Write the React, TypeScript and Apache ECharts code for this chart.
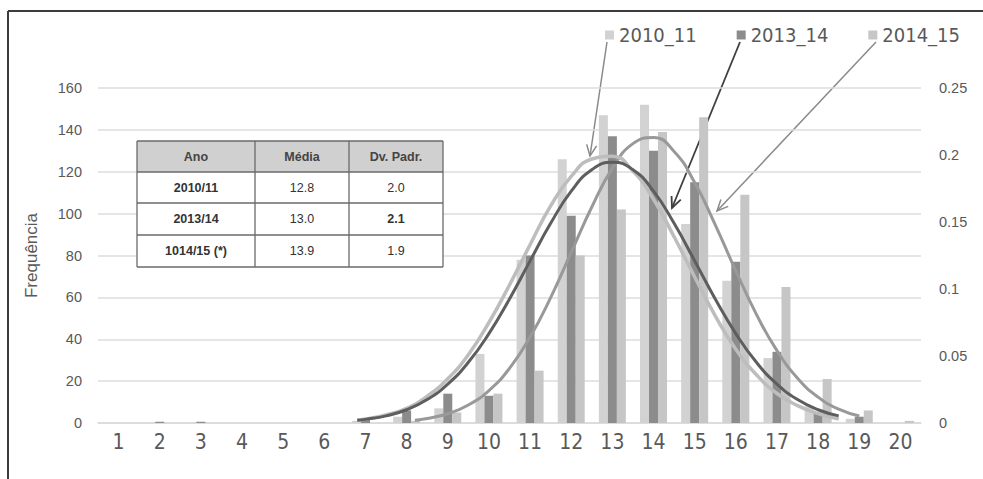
import React, { useEffect, useRef } from "react";
import * as echarts from "echarts";

const categories = ["1","2","3","4","5","6","7","8","9","10","11","12","13","14","15","16","17","18","19","20"];
const seriesNames = ["2010_11", "2013_14", "2014_15"];
const bars2010 = [0,0,0,0,0,0,1,3,7,33,78,126,147,152,95,68,31,8,2,0];
const bars2013 = [0,0.6,0.6,0,0,0,2,6,14,13,80,99,137,130,115,77,34,5,3,0];
const bars2014 = [0,0,0,0,0,0,0,1,5,14,25,80,102,139,146,109,65,21,6,1];

const curve2010: [number, number][] = [
  [6.8,0.002],[7,0.003],[7.5,0.006],[8,0.011],[8.5,0.020],[9,0.033],[9.5,0.051],[10,0.075],
  [10.5,0.103],[11,0.133],[11.5,0.162],[12,0.184],[12.5,0.197],[13,0.199],[13.5,0.188],
  [14,0.167],[14.5,0.139],[15,0.109],[15.5,0.080],[16,0.055],[16.5,0.036],[17,0.022],
  [17.5,0.013],[18,0.007],[18.5,0.003]
];
const curve2013: [number, number][] = [
  [6.8,0.002],[7,0.0027],[7.5,0.0053],[8,0.0099],[8.5,0.0175],[9,0.029],[9.5,0.0453],[10,0.0667],
  [10.5,0.0925],[11,0.121],[11.5,0.149],[12,0.173],[12.5,0.189],[13,0.1946],[13.5,0.189],
  [14,0.173],[14.5,0.149],[15,0.121],[15.5,0.0925],[16,0.0667],[16.5,0.0453],[17,0.029],
  [17.5,0.0175],[18,0.0099],[18.5,0.0053]
];
const curve2014: [number, number][] = [
  [8.2,0.002],[8.5,0.0033],[9,0.0069],[9.5,0.0134],[10,0.0242],[10.5,0.0408],[11,0.0641],
  [11.5,0.0936],[12,0.1273],[12.5,0.1612],[13,0.19],[13.5,0.2085],[14,0.213],[14.5,0.2026],
  [15,0.1794],[15.5,0.1479],[16,0.1135],[16.5,0.0811],[17,0.054],[17.5,0.0334],[18,0.0193],
  [18.5,0.0103],[19,0.0052]
];

const leftTicks = { min: 0, max: 160, interval: 20 };
const rightTicks = { min: 0, max: 0.25, interval: 0.05 };

const tableHeader = ["Ano", "Média", "Dv. Padr."];
const tableYears = ["2010/11", "2013/14", "1014/15 (*)"];
const tableMeans = ["12.8", "13.0", "13.9"];
const tableSDs = ["2.0", "2.1", "1.9"];

const NARROW = "'Liberation Sans Narrow', 'DejaVu Sans Condensed', 'Liberation Sans', sans-serif";
const SANS = "'Liberation Sans', 'DejaVu Sans', sans-serif";
const TXT = "#595959";

function arrow(x1: number, y1: number, x2: number, y2: number, color: string, w: number) {
  const dx = x2 - x1, dy = y2 - y1;
  const len = Math.sqrt(dx * dx + dy * dy);
  const ux = dx / len, uy = dy / len;
  const nx = -uy, ny = ux;
  const hl = 11, hw = 5;
  const bx = x2 - ux * hl, by = y2 - uy * hl;
  return [
    { type: "line", shape: { x1, y1, x2, y2 }, style: { stroke: color, lineWidth: w }, silent: true },
    {
      type: "polyline",
      shape: { points: [[bx + nx * hw, by + ny * hw], [x2, y2], [bx - nx * hw, by - ny * hw]] },
      style: { stroke: color, lineWidth: w, fill: null },
      silent: true,
    },
  ];
}

function buildTable() {
  const x0 = 137, y0 = 141;
  const colW = [118, 94, 94];
  const rowH = [31, 31, 32, 32];
  const els: any[] = [];
  const totalW = colW.reduce((a, b) => a + b, 0);
  const totalH = rowH.reduce((a, b) => a + b, 0);
  els.push({ type: "rect", shape: { x: x0, y: y0, width: totalW, height: totalH }, style: { fill: "#ffffff", stroke: "none" }, z: 10 });
  els.push({ type: "rect", shape: { x: x0, y: y0, width: totalW, height: rowH[0] }, style: { fill: "#d0d0d0", stroke: "none" }, z: 10 });
  const rows = [tableHeader, ...tableYears.map((y, i) => [y, tableMeans[i], tableSDs[i]])];
  let yy = y0;
  rows.forEach((row, ri) => {
    let xx = x0;
    row.forEach((cell, ci) => {
      const bold = ri === 0 || ci === 0 || (ri === 2 && ci === 2);
      els.push({
        type: "text",
        x: xx + colW[ci] / 2,
        y: yy + rowH[ri] / 2,
        style: {
          text: cell,
          fontFamily: SANS,
          fontSize: 12.5,
          fontWeight: bold ? "bold" : "normal",
          fill: ri === 0 ? "#444" : "#333",
          align: "center",
          verticalAlign: "middle",
        },
        z: 12,
      });
      xx += colW[ci];
    });
    yy += rowH[ri];
  });
  let ly = y0;
  for (let i = 0; i <= rowH.length; i++) {
    els.push({ type: "line", shape: { x1: x0, y1: ly, x2: x0 + totalW, y2: ly }, style: { stroke: "#6a6a6a", lineWidth: 1.3 }, z: 11 });
    if (i < rowH.length) ly += rowH[i];
  }
  let lx = x0;
  for (let i = 0; i <= colW.length; i++) {
    els.push({ type: "line", shape: { x1: lx, y1: y0, x2: lx, y2: y0 + totalH }, style: { stroke: "#6a6a6a", lineWidth: 1.3 }, z: 11 });
    if (i < colW.length) lx += colW[i];
  }
  return els;
}

export default function App() {
  const ref = useRef<HTMLDivElement>(null);
  useEffect(() => {
    if (!ref.current) return;
    const chart = echarts.init(ref.current, null, { renderer: "svg" });
    const barColors = ["#d2d2d2", "#8c8c8c", "#c6c6c6"];
    const barData = [bars2010, bars2013, bars2014];
    const option: any = {
      animation: false,
      backgroundColor: "#ffffff",
      grid: { left: 98, right: 62, top: 88, bottom: 56, containLabel: false },
      legend: {
        data: seriesNames,
        left: 600,
        top: 20,
        icon: "rect",
        itemWidth: 9,
        itemHeight: 9,
        itemGap: 40,
        textStyle: { fontFamily: NARROW, fontSize: 20, color: TXT },
      },
      xAxis: [
        {
          type: "category",
          data: categories,
          axisLine: { lineStyle: { color: "#d9d9d9", width: 1.5 } },
          axisTick: { show: false },
          axisLabel: { fontFamily: NARROW, fontSize: 21, color: TXT, margin: 8 },
        },
        { type: "value", min: 0.5, max: 20.5, show: false },
      ],
      yAxis: [
        {
          type: "value",
          ...leftTicks,
          name: "Frequência",
          nameLocation: "middle",
          nameGap: 58,
          nameTextStyle: { fontFamily: SANS, fontSize: 17, color: TXT },
          axisLabel: { fontFamily: SANS, fontSize: 14.5, color: TXT, margin: 16 },
          splitLine: { lineStyle: { color: "#dcdcdc", width: 1.5 } },
          axisLine: { show: false },
          axisTick: { show: false },
        },
        {
          type: "value",
          ...rightTicks,
          position: "right",
          axisLabel: { fontFamily: SANS, fontSize: 14.5, color: TXT, margin: 18 },
          splitLine: { show: false },
          axisLine: { show: false },
          axisTick: { show: false },
        },
      ],
      series: [
        ...seriesNames.map((n, i) => ({
          name: n,
          type: "bar",
          data: barData[i],
          barWidth: 9,
          barGap: "0%",
          itemStyle: { color: barColors[i] },
          xAxisIndex: 0,
          yAxisIndex: 0,
          z: 2,
        })),
        {
          name: "c2014",
          type: "line",
          data: curve2014,
          xAxisIndex: 1,
          yAxisIndex: 1,
          smooth: true,
          symbol: "none",
          lineStyle: { color: "#999999", width: 3 },
          z: 4,
        },
        {
          name: "c2010",
          type: "line",
          data: curve2010,
          xAxisIndex: 1,
          yAxisIndex: 1,
          smooth: true,
          symbol: "none",
          lineStyle: { color: "#bdbdbd", width: 3.5 },
          z: 4,
        },
        {
          name: "c2013",
          type: "line",
          data: curve2013,
          xAxisIndex: 1,
          yAxisIndex: 1,
          smooth: true,
          symbol: "none",
          lineStyle: { color: "#5e5e5e", width: 3 },
          z: 5,
        },
      ],
      graphic: [
        { type: "line", shape: { x1: 8, y1: 11, x2: 983, y2: 11 }, style: { stroke: "#3c3c3c", lineWidth: 2 }, silent: true },
        { type: "line", shape: { x1: 8, y1: 11, x2: 8, y2: 479 }, style: { stroke: "#3c3c3c", lineWidth: 2 }, silent: true },
        ...buildTable(),
        ...arrow(607, 42, 590, 156, "#8a8a8a", 1.5),
        ...arrow(740, 42, 672, 208, "#3e3e3e", 1.8),
        ...arrow(876, 42, 717, 211, "#8a8a8a", 1.5),
      ],
    };
    chart.setOption(option);
    return () => chart.dispose();
  }, []);
  return <div ref={ref} style={{ position: "fixed", left: 0, top: 0, width: 983, height: 479 }} />;
}
